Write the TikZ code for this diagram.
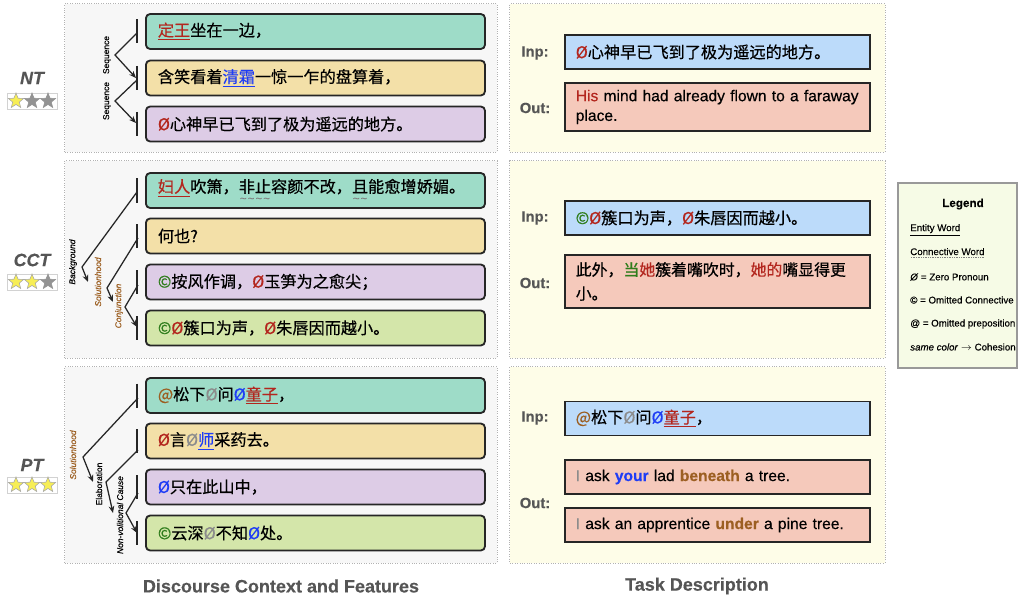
\documentclass[tikz,border=0pt]{standalone}
\usepackage{fontspec}
\setmainfont{Liberation Sans}[RawFeature={embolden=0.35}]
\newfontfamily\cjk{Noto Sans CJK SC}[RawFeature={embolden=0.5}]
\usepackage{xcolor}
\usetikzlibrary{arrows,arrows.meta,calc,shapes,positioning}

\definecolor{boxgreen}{HTML}{9EDCC8}
\definecolor{boxyellow}{HTML}{F3E0A8}
\definecolor{boxpurple}{HTML}{DDCCE6}
\definecolor{boxlime}{HTML}{D4E6AA}
\definecolor{boxinp}{HTML}{BCDBFA}
\definecolor{boxout}{HTML}{F5C9BB}
\definecolor{boxline}{HTML}{262626}
\definecolor{zpred}{HTML}{B3261E}
\definecolor{zpblue}{HTML}{1F3DF5}
\definecolor{cngreen}{HTML}{2F7D1C}
\definecolor{prbrown}{HTML}{9C5F22}
\definecolor{zpgray}{HTML}{8C8C8C}
\definecolor{lblgray}{HTML}{555555}
\definecolor{ctxbg}{HTML}{F7F7F7}
\definecolor{taskbg}{HTML}{FEFDE8}
\definecolor{legbg}{HTML}{F6FBE6}
\definecolor{staryellow}{HTML}{F7EE55}

\tikzset{ctxpanel/.style={draw=gray!60,densely dotted,line width=0.7pt,fill=ctxbg,inner sep=0pt},
	taskpanel/.style={draw=gray!60,densely dotted,line width=0.7pt,fill=taskbg,inner sep=0pt},
	legpanel/.style={draw=gray!80,line width=0.8pt,fill=legbg,inner sep=0pt},
	ctxbox/.style={draw=boxline,line width=1.3pt,rounded corners=3pt,anchor=west,text width=7.875cm,inner xsep=0.3cm,minimum height=0.875cm,align=left,font=\cjk\fontsize{11.5}{14}\selectfont},
	taskbox/.style={draw=boxline,line width=1.1pt,anchor=west,text width=7.075cm,inner xsep=0.275cm,minimum height=0.85cm,align=left},
	tasklbl/.style={font=\bfseries\fontsize{10.5}{12}\selectfont,text=lblgray},
	levellbl/.style={font=\bfseries\itshape\fontsize{12.7}{14}\selectfont,text=lblgray},
	rellbl/.style={rotate=90,inner sep=0pt,font=\fontsize{6}{7}\selectfont},
	bar/.style={line width=1.6pt,draw=boxline},
	rel/.style={-{Stealth[length=5pt,width=4pt]},line width=0.9pt,draw=boxline},
	starbox/.style={draw=gray!35,line width=0.6pt,minimum width=1.25cm,minimum height=0.4cm,inner sep=0pt},
	staron/.style={star,star points=5,star point ratio=2.3,minimum size=0.4cm,inner sep=0pt,fill=staryellow,draw=gray!70,line width=0.4pt},
	staroff/.style={star,star points=5,star point ratio=2.3,minimum size=0.4cm,inner sep=0pt,fill=gray!85,draw=gray!85,line width=0.4pt},
	legitem/.style={anchor=west,inner sep=0pt,font=\fontsize{6.9}{8}\selectfont},
	footlbl/.style={font=\bfseries\fontsize{12.8}{14}\selectfont,text=lblgray}}

\newcommand{\zpR}{\textcolor{zpred}{Ø}}
\newcommand{\zpB}{\textcolor{zpblue}{Ø}}
\newcommand{\zpG}{\textcolor{zpgray}{Ø}}
\newcommand{\omc}{\textcolor{cngreen}{©}}
\newcommand{\omp}{\textcolor{prbrown}{@}}
\newcommand{\ent}[2]{\textcolor{#1}{\underline{#2}}}
% wavy and dotted underlines for connective words
\newcommand{\conn}[1]{\leavevmode{\setbox0=\hbox{#1}\rlap{\raisebox{-6.8pt}{\hbox to \wd0{\color{gray}\rmfamily\fontsize{8}{8}\selectfont\xleaders\hbox{\char"7E}\hfill}}}\box0}}
\newcommand{\dotul}[1]{\leavevmode{\setbox0=\hbox{#1}\rlap{\raisebox{-2pt}{\hbox to \wd0{\color{gray}\xleaders\hbox to 1.2pt{\hss\rule{0.55pt}{0.45pt}\hss}\hfill}}}\box0}}

\begin{document}
\begin{tikzpicture}[x=0.025cm,y=-0.025cm]
	\useasboundingbox (0,0) rectangle (1018,597);
	
	% panels
	\node[ctxpanel,minimum width=10.8cm,minimum height=3.7cm] (ntctx) at (281,78) {};
	\node[ctxpanel,minimum width=10.8cm,minimum height=4.925cm] (cctctx) at (281,259.5) {};
	\node[ctxpanel,minimum width=10.8cm,minimum height=4.9cm] (ptctx) at (281,465) {};
	\node[taskpanel,minimum width=9.375cm,minimum height=3.7cm] (nttask) at (697.5,78) {};
	\node[taskpanel,minimum width=9.375cm,minimum height=4.925cm] (ccttask) at (697.5,259.5) {};
	\node[taskpanel,minimum width=9.375cm,minimum height=4.9cm] (pttask) at (697.5,465) {};
	\node[legpanel,minimum width=2.975cm,minimum height=4.625cm] (legend) at (957.5,275.5) {};
	
	% levels
	\node[levellbl] (ntl) at (32,78) {NT};
	\node[starbox] (ntstars) at (32,101) {};
	\node[staron] (nts1) at (16,101) {};
	\node[staroff] (nts2) at (32,101) {};
	\node[staroff] (nts3) at (48,101) {};
	
	\node[levellbl] (cctl) at (32,260) {CCT};
	\node[starbox] (cctstars) at (32,282) {};
	\node[staron] (ccts1) at (16,282) {};
	\node[staron] (ccts2) at (32,282) {};
	\node[staroff] (ccts3) at (48,282) {};
	
	\node[levellbl] (ptl) at (32,465) {PT};
	\node[starbox] (ptstars) at (32,485) {};
	\node[staron] (pts1) at (16,485) {};
	\node[staron] (pts2) at (32,485) {};
	\node[staron] (pts3) at (48,485) {};
	
	% discourse units
	\node[ctxbox,fill=boxgreen] (nt1) at (145,31.5) {\ent{zpred}{定王}坐在一边，};
	\node[ctxbox,fill=boxyellow] (nt2) at (145,78) {含笑看着\ent{zpblue}{清霜}一惊一乍的盘算着，};
	\node[ctxbox,fill=boxpurple] (nt3) at (145,124) {\zpR 心神早已飞到了极为遥远的地方。};
	
	\node[ctxbox,fill=boxgreen] (cct1) at (145,190.5) {\ent{zpred}{妇人}吹箫，\conn{非止}容颜不改，\conn{且}能愈增娇媚。};
	\node[ctxbox,fill=boxyellow] (cct2) at (145,236) {何也?};
	\node[ctxbox,fill=boxpurple] (cct3) at (145,282) {\omc 按风作调，\zpR 玉笋为之愈尖；};
	\node[ctxbox,fill=boxlime] (cct4) at (145,328) {\omc\zpR 簇口为声，\zpR 朱唇因而越小。};
	
	\node[ctxbox,fill=boxgreen] (pt1) at (145,395.5) {\omp 松下\zpG 问\zpB \ent{zpred}{童子}，};
	\node[ctxbox,fill=boxyellow] (pt2) at (145,441) {\zpR 言\zpG \ent{zpblue}{师}采药去。};
	\node[ctxbox,fill=boxpurple] (pt3) at (145,487) {\zpB 只在此山中，};
	\node[ctxbox,fill=boxlime] (pt4) at (145,533) {\omc 云深\zpG 不知\zpB 处。};
	
	% bars
	\draw[bar] ($(nt1.west)+(-8,-12)$) -- ($(nt1.west)+(-8,12)$);
	\draw[bar] ($(nt2.west)+(-8,-12)$) -- ($(nt2.west)+(-8,12)$);
	\draw[bar] ($(nt3.west)+(-8,-12)$) -- ($(nt3.west)+(-8,12)$);
	\draw[bar] ($(cct1.west)+(-8,-12)$) -- ($(cct1.west)+(-8,12)$);
	\draw[bar] ($(cct2.west)+(-8,-12)$) -- ($(cct2.west)+(-8,12)$);
	\draw[bar] ($(cct3.west)+(-8,-12)$) -- ($(cct3.west)+(-8,12)$);
	\draw[bar] ($(cct4.west)+(-8,-12)$) -- ($(cct4.west)+(-8,12)$);
	\draw[bar] ($(pt1.west)+(-8,-12)$) -- ($(pt1.west)+(-8,12)$);
	\draw[bar] ($(pt2.west)+(-8,-12)$) -- ($(pt2.west)+(-8,12)$);
	\draw[bar] ($(pt3.west)+(-8,-12)$) -- ($(pt3.west)+(-8,12)$);
	\draw[bar] ($(pt4.west)+(-8,-12)$) -- ($(pt4.west)+(-8,12)$);
	
	% relations
	\coordinate (ntr1a) at (137,33);
	\coordinate (ntr1b) at (115,55);
	\coordinate (ntr1c) at (136,78);
	\coordinate (ntr2a) at (137,80);
	\coordinate (ntr2b) at (115,101);
	\coordinate (ntr2c) at (136,123);
	\draw[rel] (ntr1a) -- (ntr1b) -- (ntr1c);
	\draw[rel] (ntr2a) -- (ntr2b) -- (ntr2c);
	\node[rellbl] (ntseq1) at (107,55) {Sequence};
	\node[rellbl] (ntseq2) at (107,101) {Sequence};
	
	\coordinate (cctr1a) at (137,192);
	\coordinate (cctr1b) at (82,267);
	\coordinate (cctr1c) at (88,282);
	\coordinate (cctr2a) at (138,238);
	\coordinate (cctr2b) at (107,288);
	\coordinate (cctr2c) at (113,302);
	\coordinate (cctr3a) at (138,285);
	\coordinate (cctr3b) at (125,307);
	\coordinate (cctr3c) at (137,327);
	\draw[rel] (cctr1a) -- (cctr1b) -- (cctr1c);
	\draw[rel] (cctr2a) -- (cctr2b) -- (cctr2c);
	\draw[rel] (cctr3a) -- (cctr3b) -- (cctr3c);
	\node[rellbl,font=\itshape\fontsize{6}{7}\selectfont] (cctbg) at (73,262) {Background};
	\node[rellbl,font=\itshape\fontsize{6}{7}\selectfont,text=prbrown] (cctsol) at (98,282) {Solutionhood};
	\node[rellbl,font=\itshape\fontsize{6}{7}\selectfont,text=prbrown] (cctconj) at (119,306) {Conjunction};
	
	\coordinate (ptr1a) at (138,398);
	\coordinate (ptr1b) at (83,457);
	\coordinate (ptr1c) at (93,482);
	\coordinate (ptr2a) at (138,450);
	\coordinate (ptr2b) at (106,482);
	\coordinate (ptr2c) at (113,513);
	\coordinate (ptr3a) at (138,493);
	\coordinate (ptr3b) at (126,513);
	\coordinate (ptr3c) at (137,533);
	\draw[rel] (ptr1a) -- (ptr1b) -- (ptr1c);
	\draw[rel] (ptr2a) -- (ptr2b) -- (ptr2c);
	\draw[rel] (ptr3a) -- (ptr3b) -- (ptr3c);
	\node[rellbl,font=\itshape\fontsize{6}{7}\selectfont,text=prbrown] (ptsol) at (73,455) {Solutionhood};
	\node[rellbl] (ptela) at (99,484) {Elaboration};
	\node[rellbl,font=\itshape\fontsize{6}{7}\selectfont] (ptnvc) at (120,515) {Non-volitional Cause};
	
	% task description
	\node[tasklbl] (ntinpl) at (535,53) {Inp:};
	\node[tasklbl] (ntoutl) at (535,108) {Out:};
	\node[taskbox,fill=boxinp,font=\cjk\fontsize{11.5}{14}\selectfont] (ntinp) at (564,52) {\zpR 心神早已飞到了极为遥远的地方。};
	\node[taskbox,fill=boxout,minimum height=1.2cm,font=\fontsize{11.1}{14}\selectfont] (ntout) at (564,107) {\textcolor{zpred}{His} mind had already flown to a faraway\\place.};
	
	\node[tasklbl] (cctinpl) at (535,218) {Inp:};
	\node[tasklbl] (cctoutl) at (535,283) {Out:};
	\node[taskbox,fill=boxinp,font=\cjk\fontsize{11.5}{14}\selectfont] (cctinp) at (564,218) {\omc\zpR 簇口为声，\zpR 朱唇因而越小。};
	\node[taskbox,fill=boxout,minimum height=1.325cm,font=\cjk\fontsize{11.3}{17}\selectfont] (cctout) at (564,281.5) {此外，\textcolor{cngreen}{当}\textcolor{zpred}{她}簇着嘴吹时，\textcolor{zpred}{她的}嘴显得更\\小。};
	
	\node[tasklbl] (ptinpl) at (535,418) {Inp:};
	\node[tasklbl] (ptoutl) at (535,503) {Out:};
	\node[taskbox,fill=boxinp,font=\cjk\fontsize{11.5}{14}\selectfont] (ptinp) at (564,418.5) {\omp 松下\zpG 问\zpB \ent{zpred}{童子}，};
	\node[taskbox,fill=boxout,font=\fontsize{11.1}{14}\selectfont] (ptout1) at (564,477) {\textcolor{zpgray}{I} ask \textbf{\textcolor{zpblue}{your}} lad \textbf{\textcolor{prbrown}{beneath}} a tree.};
	\node[taskbox,fill=boxout,font=\fontsize{11.1}{14}\selectfont] (ptout2) at (564,525) {\textcolor{zpgray}{I} ask an apprentice \textbf{\textcolor{prbrown}{under}} a pine tree.};
	
	% legend
	\node[font=\bfseries\fontsize{8.3}{10}\selectfont] (legt) at (963,204) {Legend};
	\node[legitem] (leg1) at (910,230) {\underline{Entity Word}};
	\node[legitem] (leg2) at (910,253) {\dotul{Connective Word}};
	\node[legitem] (leg3) at (910,277) {\textit{Ø} = Zero Pronoun};
	\node[legitem] (leg4) at (910,300) {© = Omitted Connective};
	\node[legitem] (leg5) at (910,324) {@ = Omitted preposition};
	\node[legitem] (leg6) at (910,347) {\textit{same color} $\rightarrow$ Cohesion};
	
	\node[footlbl] (ctxcap) at (281,586) {Discourse Context and Features};
	\node[footlbl] (taskcap) at (697,586) {Task Description};
\end{tikzpicture}
\end{document}
